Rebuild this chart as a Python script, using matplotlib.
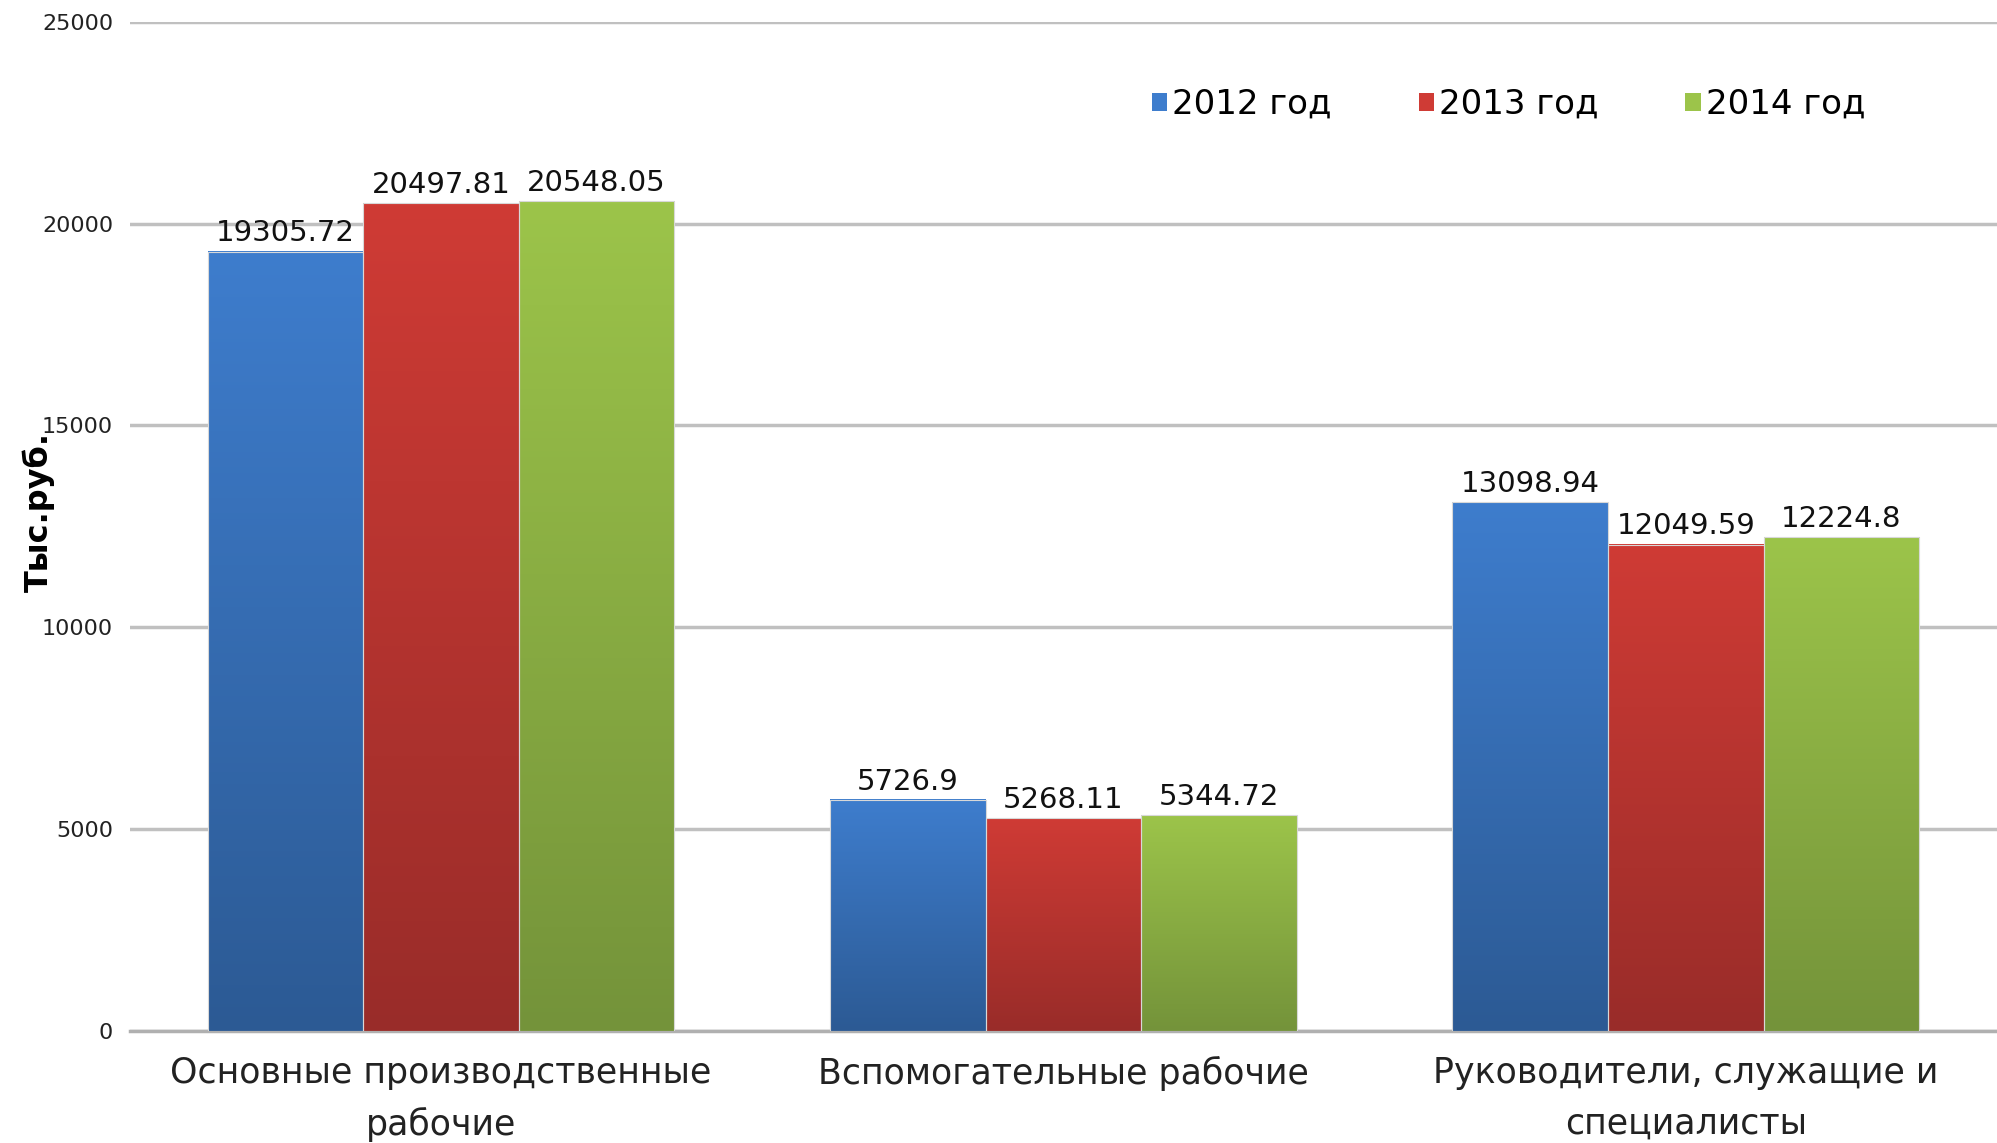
import numpy as np
import matplotlib
matplotlib.use("Agg")
import matplotlib.pyplot as plt
from matplotlib.colors import LinearSegmentedColormap
from matplotlib.patches import Patch

# --- data ---
categories = ["Основные производственные\nрабочие",
              "Вспомогательные рабочие",
              "Руководители, служащие и\nспециалисты"]
series_names = ["2012 год", "2013 год", "2014 год"]
vals_2012 = [19305.72, 5726.9, 13098.94]
vals_2013 = [20497.81, 5268.11, 12049.59]
vals_2014 = [20548.05, 5344.72, 12224.8]
labels_2012 = ["19305.72", "5726.9", "13098.94"]
labels_2013 = ["20497.81", "5268.11", "12049.59"]
labels_2014 = ["20548.05", "5344.72", "12224.8"]
y_ticks = [0, 5000, 10000, 15000, 20000, 25000]

# top / bottom colours of the gradient fill
top_colors = ["#3e7dcd", "#cf3b35", "#9cc44a"]
bot_colors = ["#2c5a94", "#992c29", "#74933a"]

plt.rcParams["font.family"] = ["DejaVu Sans"]

fig = plt.figure(figsize=(19.97, 11.43), dpi=100)
ax = fig.add_axes([0.065, 0.098, 0.935, 0.883])

x = np.arange(len(categories))
w = 0.25
series = [vals_2012, vals_2013, vals_2014]
series_labels = [labels_2012, labels_2013, labels_2014]

grad = np.linspace(0, 1, 256).reshape(-1, 1)
for i, (vals, labs) in enumerate(zip(series, series_labels)):
    bars = ax.bar(x + (i - 1) * w, vals, w, color="none",
                  edgecolor="#d8d8d8", linewidth=0.8, zorder=4)
    cmap = LinearSegmentedColormap.from_list("g%d" % i, [bot_colors[i], top_colors[i]])
    for b, lab in zip(bars, labs):
        bx, by = b.get_x(), b.get_y()
        bw, bh = b.get_width(), b.get_height()
        ax.imshow(grad, extent=[bx, bx + bw, by, by + bh], origin="lower",
                  aspect="auto", cmap=cmap, zorder=3)
        ax.annotate(lab, (bx + bw / 2, by + bh), xytext=(0, 3),
                    textcoords="offset points", ha="center", va="bottom",
                    fontsize=21, color="#111111", zorder=5)

ax.set_xlim(-0.5, 2.5)
ax.set_ylim(0, 25000)
ax.set_yticks(y_ticks)
ax.set_yticklabels([str(t) for t in y_ticks], fontsize=16, color="#222222")
ax.set_xticks(x)
ax.set_xticklabels(categories, fontsize=25, color="#222222", linespacing=1.6)
ax.tick_params(axis="both", length=0)
ax.tick_params(axis="y", pad=12)
ax.tick_params(axis="x", pad=18)

ax.grid(axis="y", color="#c0c0c0", linewidth=2.5, zorder=0)
ax.set_axisbelow(True)
for s in ["top", "right", "left"]:
    ax.spines[s].set_visible(False)
ax.spines["bottom"].set_color("#b0b0b0")
ax.spines["bottom"].set_linewidth(2.5)

ax.set_ylabel("Тыс.руб.", fontsize=23, fontweight="bold", labelpad=0)
ax.yaxis.set_label_coords(-0.040, 0.514)

handles = [Patch(facecolor=top_colors[i], edgecolor="none") for i in range(3)]
ax.legend(handles, series_names, ncol=3, loc="center left",
          bbox_to_anchor=(0.531, 0.918), frameon=False, fontsize=24.5,
          handlelength=0.45, handleheight=0.45, handletextpad=0.15,
          columnspacing=2.55)

fig.savefig("out.png", dpi=100)
